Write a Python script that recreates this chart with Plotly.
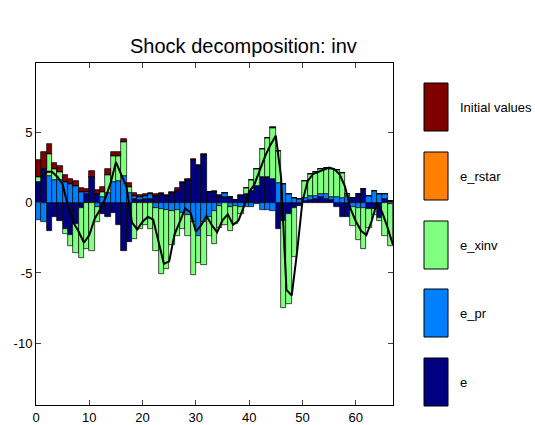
import plotly.graph_objects as go

periods = list(range(1, 68))

init_vals = [1.2, 1.2, 0.75, 0.45, 0.4, 0.45, 0.4, 0.35, 0.3, 0.25,
             0.45, 0.3, 0.35, 0.4, 0.3, 0.28, 0.27, 0.25, 0.2, 0.15,
             0.15, 0.1, 0.1, 0.1, 0.08, 0.05, 0.2, 0.1, 0.1, 0.05,
             0.05, 0.05, 0.05, 0.05, 0.05, 0.03, 0.03, 0.03, 0.02, 0.02,
             0.02, 0.02, 0.02, 0.02, 0.02, 0.0, 0.0, 0.0, 0.0, 0.0,
             0.0, 0.0, 0.0, 0.0, 0.0, 0.0, 0.0, 0.0, 0.0, 0.0,
             0.0, 0.0, 0.0, 0.0, 0.0, 0.0, 0.0]
e_vals = [1.5, 2.4, -2.0, -1.0, -1.3, -1.9, -2.3, -1.5, -0.4, 0.6,
          1.8, 0.6, -0.8, -1.0, -0.7, -1.6, -3.45, -2.8, 0.3, 0.2,
          0.3, 0.3, 0.5, 0.6, 0.45, 0.7, 0.85, 1.4, 1.6, 3.05,
          2.65, 3.4, 0.75, 0.8, 0.5, 0.4, 0.4, 0.2, 0.5, 0.6,
          0.85, 1.2, 1.8, 1.8, 1.7, -1.9, -1.3, -0.8, -0.4, -0.2,
          0.15, 0.2, 0.3, 0.4, 0.3, 0.2, -0.3, -1.0, -1.0, 0.35,
          0.65, 1.0, -0.45, -0.45, -1.1, 0.3, 0.1]
e_pr_vals = [-1.2, -1.4, 1.9, 1.6, 1.6, 1.5, 1.3, 1.2, 0.75, 0.15,
             0.0, -0.3, 0.4, 0.7, 1.5, 1.55, 1.9, 0.7, 0.2, 0.2,
             0.15, 0.3, -0.4, -0.45, -0.5, -0.6, -0.5, -0.7, -0.9, -1.4,
             -2.4, -1.4, -1.0, -0.6, -0.2, 0.3, -0.3, -0.2, -0.3, -0.3,
             -0.3, -0.1, -0.5, -0.5, -0.6, 1.4, 1.3, 0.6, 0.35, 0.25,
             0.2, 0.25, 0.2, 0.2, 0.3, 0.2, 0.4, 0.35, 0.45, -0.3,
             -0.35, -0.4, 0.5, 0.85, 0.6, 0.3, -0.1]
e_xinv_vals = [0.35, 0.0, 1.55, 0.8, 0.6, -0.3, -0.8, -2.1, -3.5, -3.3,
               -3.4, -1.1, 0.35, 1.3, 1.8, 1.75, 2.4, 0.45, -2.6, -1.9,
               -1.6, -1.9, -3.0, -4.6, -4.2, -2.4, -1.9, -1.2, -1.5, -3.75,
               -1.9, -3.0, -1.4, -2.35, -1.6, -1.55, -1.7, -1.3, -0.5, 0.45,
               0.75, 1.2, 2.0, 2.8, 3.65, 2.3, -6.2, -6.4, -3.45, 0.05,
               1.2, 1.6, 1.7, 1.8, 1.9, 2.0, 1.9, 1.8, 0.15, -1.35,
               -2.3, -2.9, -1.35, -0.4, -0.2, -2.4, -3.0]
e_rstar_vals = [0.0, 0.0, 0.0, 0.0, 0.0, 0.0, 0.0, 0.0, 0.0, 0.0,
                0.0, 0.0, 0.0, 0.0, 0.0, 0.0, 0.0, 0.0, 0.0, 0.0,
                0.0, 0.0, 0.0, 0.0, 0.0, 0.0, 0.0, 0.0, 0.0, 0.0,
                0.0, 0.0, 0.0, 0.0, 0.0, 0.0, 0.0, 0.0, 0.0, 0.0,
                0.0, 0.0, 0.0, 0.0, 0.0, 0.0, 0.0, 0.0, 0.0, 0.0,
                0.0, 0.0, 0.0, 0.0, 0.0, 0.0, 0.0, 0.0, 0.0, 0.0,
                0.0, 0.0, 0.0, 0.0, 0.0, 0.0, 0.0]
total_vals = [1.85, 2.2, 2.2, 1.85, 1.3, -0.25, -1.4, -2.05, -2.85, -2.3,
              -1.15, -0.5, 0.3, 1.4, 2.9, 1.98, 1.12, -1.4, -1.9, -1.35,
              -1.0, -1.2, -2.8, -4.35, -4.17, -2.25, -1.35, -0.4, -0.7, -2.05,
              -1.6, -0.95, -1.6, -2.1, -1.25, -0.82, -1.57, -1.27, -0.28, 0.77,
              1.32, 2.32, 3.32, 4.12, 4.77, 1.8, -6.2, -6.6, -3.5, 0.1,
              1.55, 2.05, 2.2, 2.4, 2.5, 2.4, 2.0, 1.15, -0.4, -1.3,
              -2.0, -2.3, -1.3, 0.0, -0.7, -1.8, -3.0]

names = ["e", "e_pr", "e_xinv", "e_rstar", "Initial values"]
series = [e_vals, e_pr_vals, e_xinv_vals, e_rstar_vals, init_vals]
colors = ["#000080", "#0080FF", "#80FF80", "#FF8000", "#800000"]
xticks = [0, 10, 20, 30, 40, 50, 60]
xtick_text = ["0", "10", "20", "30", "40", "50", "60"]
yticks = [-10, -5, 0, 5]
ytick_text = ["-10", "-5", "0", "5"]
x_range = [0, 67]
y_range = [-14.4, 9.95]
title_text = "Shock decomposition: inv"

FONT = "Liberation Sans, Arial, Helvetica, sans-serif"

fig = go.Figure()
bar_x = [p - 0.5 for p in periods]
for name, vals, col in zip(names, series, colors):
    fig.add_trace(go.Bar(x=bar_x, y=vals, width=1, name=name,
                         marker=dict(color=col, line=dict(color="black", width=0.7)),
                         showlegend=False))
fig.add_trace(go.Scatter(x=periods, y=total_vals, mode="lines",
                         line=dict(color="black", width=2), showlegend=False))

W, H = 535, 425
L, R, T, B = 36, 142, 63, 20
pw, ph = W - L - R, H - T - B

def px(X):
    return (X - L) / pw

def py(Y):
    return (H - B - Y) / ph

shapes = []
annotations = []
leg_tops = [83, 152, 221, 289, 358]
leg_h = 48
for i, (name, col) in enumerate(zip(names[::-1], colors[::-1])):
    y0 = leg_tops[i]
    shapes.append(dict(type="rect", xref="paper", yref="paper",
                       x0=px(424), x1=px(448), y0=py(y0 + leg_h), y1=py(y0),
                       fillcolor=col, line=dict(color="black", width=1)))
    annotations.append(dict(xref="paper", yref="paper", x=px(458), y=py(y0 + leg_h / 2),
                            text=name, showarrow=False, xanchor="left", yanchor="middle",
                            font=dict(family=FONT, size=13, color="black")))
annotations.append(dict(xref="paper", yref="paper", x=px(243), y=py(46),
                        text=title_text, showarrow=False, xanchor="center", yanchor="middle",
                        font=dict(family=FONT, size=20, color="black")))

fig.update_layout(
    width=W, height=H, margin=dict(l=L, r=R, t=T, b=B, autoexpand=False),
    paper_bgcolor="white", plot_bgcolor="white",
    barmode="relative", bargap=0,
    font=dict(family=FONT, size=12, color="black"),
    shapes=shapes, annotations=annotations,
    xaxis=dict(range=x_range, tickvals=xticks, ticktext=xtick_text, ticks="inside", ticklen=5,
               showline=True, linecolor="black", linewidth=1, mirror="ticks",
               showgrid=False, zeroline=False, automargin=False, tickfont=dict(size=13)),
    yaxis=dict(range=y_range, tickvals=yticks, ticktext=ytick_text, ticks="inside", ticklen=5,
               showline=True, linecolor="black", linewidth=1, mirror="ticks",
               showgrid=False, zeroline=False, automargin=False, tickfont=dict(size=13)),
)
fig.write_html("out.html")
